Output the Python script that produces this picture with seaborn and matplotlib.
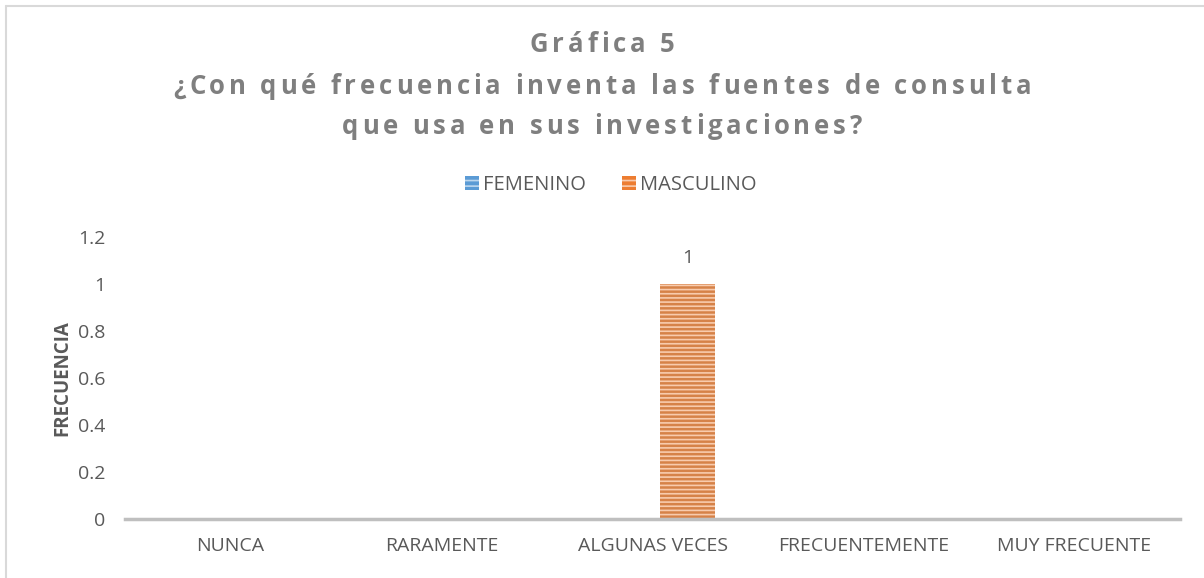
import matplotlib
matplotlib.use('Agg')
import matplotlib.pyplot as plt
import seaborn as sns
import pandas as pd
from matplotlib.font_manager import FontProperties
from matplotlib.patches import Rectangle
from matplotlib.lines import Line2D

# data
categories = ['NUNCA', 'RARAMENTE', 'ALGUNAS VECES', 'FRECUENTEMENTE', 'MUY FRECUENTE']
femenino = [0, 0, 0, 0, 0]
masculino = [0, 0, 1, 0, 0]
series_names = ['FEMENINO', 'MASCULINO']
yticks = [0, 0.2, 0.4, 0.6, 0.8, 1, 1.2]
ytick_labels = ['0', '0.2', '0.4', '0.6', '0.8', '1', '1.2']
title_lines = ['Gráfica 5',
               '¿Con qué frecuencia inventa las fuentes de consulta',
               'que usa en sus investigaciones?']

df = pd.DataFrame({
    'categoria': categories * 2,
    'serie': [series_names[0]] * len(categories) + [series_names[1]] * len(categories),
    'valor': femenino + masculino,
})

sns.set_style('white')
plt.rcParams['font.family'] = ['Open Sans', 'DejaVu Sans']
plt.rcParams['hatch.linewidth'] = 1.2
text_color = '#595959'
title_color = '#7F7F7F'
colors = {'FEMENINO': '#5B9BD5', 'MASCULINO': '#ED7D31'}
hatch_colors = {'FEMENINO': '#BDD7EE', 'MASCULINO': '#F8CBAD'}

fig = plt.figure(figsize=(12.04, 5.78), dpi=100)
ax = fig.add_axes([125 / 1204, 59 / 578, 1055 / 1204, 282 / 578])

sns.barplot(data=df, x='categoria', y='valor', hue='serie', palette=colors,
            order=categories, hue_order=series_names,
            width=0.664, gap=0.214, ax=ax, legend=False)

# striped fill like the Excel pattern
for container, name in zip(ax.containers, series_names):
    for bar in container:
        bar.set_hatch('----')
        bar.set_edgecolor(hatch_colors[name])
        bar.set_linewidth(0)

# value labels
for container in ax.containers:
    for bar in container:
        h = bar.get_height()
        if h > 0:
            ax.text(bar.get_x() + bar.get_width() / 2, h + 0.11, f'{h:g}',
                    ha='center', va='center', fontsize=14, color=text_color)

ax.set_ylim(0, 1.2)
ax.set_xlim(-0.5, len(categories) - 0.5)
ax.set_yticks(yticks)
ax.set_yticklabels(ytick_labels)
ax.tick_params(axis='both', length=0, labelsize=14, labelcolor=text_color)
ax.tick_params(axis='y', pad=14)
ax.tick_params(axis='x', pad=13)
ax.set_xlabel('')
ax.set_ylabel('FRECUENCIA', fontsize=13.5, fontweight='bold', color=text_color, labelpad=4)
for side in ['top', 'right', 'left']:
    ax.spines[side].set_visible(False)
ax.spines['bottom'].set_color('#BFBFBF')
ax.spines['bottom'].set_linewidth(2.5)

# legend
handles = [Rectangle((0, 0), 1, 1, facecolor=colors[n], edgecolor=hatch_colors[n],
                     hatch='---', linewidth=0) for n in series_names]
fig.legend(handles, series_names, loc='center', bbox_to_anchor=(611 / 1204, 1 - 185 / 578),
           ncol=2, frameon=False, fontsize=14.5, labelcolor=text_color,
           handlelength=0.7, handleheight=0.7, handletextpad=0.2, columnspacing=1.8)

# letter-spaced title, one glyph at a time
renderer = fig.canvas.get_renderer()
fp = FontProperties(family=['Open Sans', 'DejaVu Sans'], weight='bold', size=18.5)
line_y = [45, 87, 127]
target_width = 858  # width of the second title line in pixels


def glyph_widths(s):
    return [renderer.get_text_width_height_descent(ch, fp, ismath=False)[0] for ch in s]


w2 = glyph_widths(title_lines[1])
track = (target_width - sum(w2)) / (len(title_lines[1]) - 1)
for line, y in zip(title_lines, line_y):
    ws = glyph_widths(line)
    total = sum(ws) + track * (len(line) - 1)
    x = 1204 / 2 - total / 2
    for ch, w in zip(line, ws):
        fig.text(x / 1204, 1 - y / 578, ch, fontproperties=fp, color=title_color,
                 ha='left', va='center')
        x += w + track

# chart area border (left and top edges visible)
fig.add_artist(Line2D([5.5 / 1204, 5.5 / 1204], [0, 1 - 6 / 578], transform=fig.transFigure,
                      color='#D9D9D9', linewidth=1.5))
fig.add_artist(Line2D([5.5 / 1204, 1], [1 - 6 / 578, 1 - 6 / 578], transform=fig.transFigure,
                      color='#D9D9D9', linewidth=1.5))

fig.savefig('out.png', dpi=100)
